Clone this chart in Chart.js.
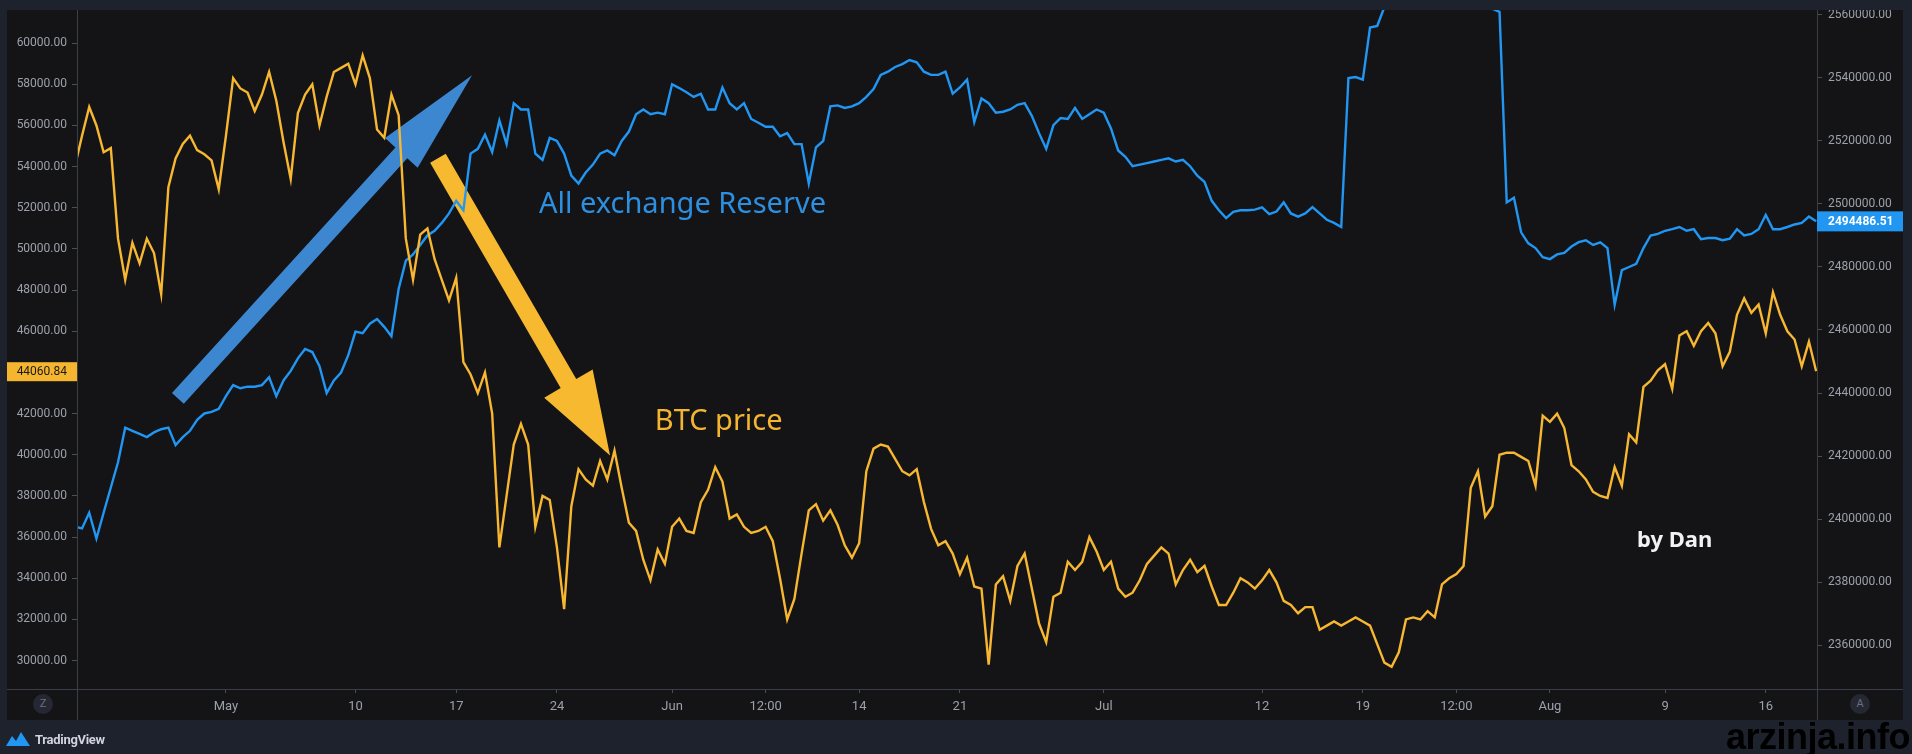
<!DOCTYPE html>
<html lang="en">
<head>
<meta charset="UTF-8" />
<title>BTC price vs All exchange Reserve</title>
<script src="https://cdn.jsdelivr.net/npm/chart.js"></script>
<style>
    html, body {
        margin: 0;
        padding: 0;
        width: 1912px;
        height: 754px;
        overflow: hidden;
        background: #1e222d;
        font-family: Roboto, sans-serif;
    }

    .panel {
        position: absolute;
        left: 7px;
        top: 10px;
        width: 1896px;
        height: 710px;
        background: #141416;
    }

    .panel canvas {
        position: absolute;
        left: 0;
        top: 0;
    }

    .btn {
        position: absolute;
        width: 20px;
        height: 20px;
        border-radius: 50%;
        background: #252833;
        color: #6c707c;
        font-size: 11px;
        line-height: 20px;
        text-align: center;
    }

    .brand {
        position: absolute;
        left: 6px;
        top: 729px;
        height: 20px;
        display: flex;
        align-items: center;
        gap: 5px;
        color: #d1d4dc;
        font: bold 13px Roboto, sans-serif;
        letter-spacing: -0.3px;
    }

    .watermark {
        position: absolute;
        right: 2px;
        top: 716px;
        color: #000;
        font: bold 36px "Liberation Sans Narrow", "Liberation Sans", sans-serif;
        letter-spacing: -0.5px;
    }
</style>
</head>
<body>
<div class="panel">
    <canvas id="chart" width="1896" height="710"></canvas>
    <div class="btn" style="left:26px; top:684px;">Z</div>
    <div class="btn" style="left:1843px; top:684px;">A</div>
</div>
<div class="brand">
    <svg width="24" height="16" viewBox="0 0 24 16">
        <path d="M0 15 L6 5 L10 10 L15 1 L24 15 Z" fill="#2196f3" />
    </svg>
    <span>TradingView</span>
</div>
<div class="watermark">arzinja.info</div>

<script>
    // samples every 12 hours, day 0 = May 1
    const firstDay = -10.5;
    const stepDay = 0.5;

    const btcPrice = [
        54000, 55500, 56900, 56000, 54700, 54900, 50500, 48500, 50300, 49300,
        50500, 49800, 47800, 53000, 54400, 55100, 55500, 54800, 54600, 54300,
        52900, 55500, 58300, 57800, 57600, 56700, 57500, 58600, 57200, 55200,
        53400, 56600, 57500, 58000, 56000, 57400, 58600, 58800, 59000, 58000,
        59400, 58300, 55800, 55400, 57500, 56500, 50500, 48500, 50700, 51000,
        49500, 48500, 47500, 48600, 44500, 43900, 43000, 44000, 42000, 35500,
        38000, 40500, 41500, 40500, 36500, 38000, 37800, 35500, 32500, 37500,
        39300, 38800, 38500, 39700, 38800, 40200, 38400, 36700, 36300, 34900,
        33900, 35400, 34700, 36500, 36900, 36300, 36200, 37700, 38300, 39400,
        38700, 36900, 37100, 36500, 36200, 36300, 36500, 35800, 34000, 32000,
        33000, 35200, 37300, 37600, 36800, 37300, 36600, 35600, 35000, 35700,
        39200, 40300, 40500, 40400, 39800, 39200, 39000, 39300, 37700, 36400,
        35600, 35800, 35200, 34200, 35000, 33600, 33500, 29800, 33700, 34100,
        32900, 34600, 35200, 33500, 31800, 30900, 33100, 33300, 34800, 34400,
        34800, 36000, 35300, 34400, 34800, 33500, 33100, 33300, 33900, 34700,
        35100, 35500, 35200, 33700, 34400, 34900, 34300, 34600, 33600, 32700,
        32700, 33300, 34000, 33800, 33500, 33900, 34400, 33800, 32900, 32700,
        32300, 32600, 32600, 31500, 31700, 31900, 31700, 31900, 32100, 31900,
        31700, 30800, 29900, 29700, 30400, 32000, 32100, 32000, 32400, 32100,
        33700, 34000, 34200, 34600, 38400, 39200, 37000, 37500, 40000, 40100,
        40100, 39900, 39700, 38500, 41900, 41600, 42000, 41300, 39500, 39200,
        38800, 38200, 38000, 37900, 39400, 38500, 41000, 40600, 43300, 43600,
        44100, 44400, 43200, 45800, 46000, 45300, 46000, 46400, 45900, 44300,
        45000, 46800, 47600, 46900, 47300, 45900, 47900, 46800, 46000, 45600,
        44300, 45500, 44060.84
    ];

    const exchangeReserve = [
        2397500, 2397000, 2402000, 2393800, 2402000, 2410000, 2418000, 2429000, 2428000, 2427000,
        2426000, 2427500, 2428500, 2429000, 2423500, 2426000, 2428000, 2431500, 2433500, 2434000,
        2435000, 2439000, 2442500, 2441500, 2442000, 2442000, 2442500, 2445000, 2439000, 2444000,
        2447000, 2451000, 2454000, 2453000, 2448500, 2440000, 2444000, 2446500, 2452000, 2459500,
        2459000, 2462000, 2463500, 2461000, 2458000, 2473000, 2482000, 2484000, 2487000, 2490000,
        2491500, 2494000, 2497000, 2501000, 2498000, 2516000, 2517500, 2522000, 2516500, 2526500,
        2519000, 2532000, 2530000, 2530000, 2516000, 2514000, 2521000, 2520000, 2516000, 2509000,
        2506500, 2510000, 2512500, 2516000, 2517000, 2515500, 2520000, 2523000, 2528500, 2530000,
        2528500, 2529000, 2528500, 2538000, 2536800, 2535500, 2534000, 2535000, 2530000, 2530000,
        2537000, 2532000, 2530000, 2532000, 2527000, 2525800, 2524500, 2524500, 2521500, 2522500,
        2519000, 2519000, 2506500, 2518000, 2520000, 2531000, 2531300, 2530500, 2531000, 2532000,
        2534000, 2536500, 2541000, 2542000, 2543500, 2544400, 2545700, 2545000, 2542000, 2541000,
        2541000, 2542000, 2535000, 2537000, 2539500, 2526000, 2533500, 2532000, 2529000, 2529300,
        2530000, 2531500, 2532000, 2528000, 2522500, 2517500, 2525000, 2527300, 2527000, 2530500,
        2527000, 2528500, 2530000, 2529000, 2524000, 2517000, 2515000, 2512000, 2512500, 2513000,
        2513500, 2514000, 2514500, 2513500, 2514000, 2512000, 2509000, 2507000, 2501000, 2498000,
        2495500, 2497500, 2498000, 2498000, 2498200, 2498900, 2496800, 2497600, 2500500, 2497000,
        2496000, 2497000, 2499000, 2497000, 2495000, 2494000, 2492700, 2540000, 2540300, 2539500,
        2556000, 2556500, 2562500, 2563000, 2564000, 2565000, 2566000, 2567000, 2568000, 2568500,
        2569000, 2569000, 2568500, 2568000, 2567000, 2566000, 2564000, 2562000, 2561000, 2500500,
        2502000, 2491000, 2487500, 2486000, 2483100, 2482500, 2484000, 2484500, 2486500, 2487900,
        2488500, 2487000, 2487800, 2486000, 2468000, 2479000, 2480000, 2481000, 2486000, 2490000,
        2490500, 2491500, 2492000, 2492700, 2491500, 2492000, 2488800, 2489200, 2489200, 2488500,
        2489000, 2492000, 2490000, 2490500, 2492000, 2496500, 2492000, 2492000, 2492700, 2493500,
        2494000, 2496000, 2494486.51
    ];

    const xTickDays = [0, 9, 16, 23, 31, 37.5, 44, 51, 61, 72, 79, 85.5, 92, 100, 107];
    const xTickLabels = ['May', '10', '17', '24', 'Jun', '12:00', '14', '21', 'Jul', '12', '19', '12:00', 'Aug', '9', '16'];

    const btcTicks = [30000, 32000, 34000, 36000, 38000, 40000, 42000, 44000,
        46000, 48000, 50000, 52000, 54000, 56000, 58000, 60000];
    const reserveTicks = [2360000, 2380000, 2400000, 2420000, 2440000, 2460000,
        2480000, 2500000, 2520000, 2540000, 2560000];

    // hand drawn notes, placed in (day, BTC price) units
    const notes = [
        { text: 'All exchange Reserve', day: 21.75, price: 51735, color: '#2d8fe0', font: '29px "Noto Sans"' },
        { text: 'BTC price', day: 29.8, price: 41184, color: '#f5b52e', font: '29px "Noto Sans"' },
        { text: 'by Dan', day: 98.05, price: 35496, color: '#f2f2f2', font: 'bold 22px "Noto Sans"' }
    ];
    const arrows = [
        { from: [-3.34, 42740], to: [17.1, 58444], color: '#3d87d1', shaft: 16, headLen: 105, headWidth: 44 },
        { from: [14.73, 54409], to: [26.69, 39968], color: '#f6b92f', shaft: 18, headLen: 83, headWidth: 56 }
    ];

    const BTC_COLOR = '#f7b731';
    const RESERVE_COLOR = '#2196f3';
    const TICK_COLOR = '#9ca0aa';
    const LINE_COLOR = '#3a3e48';

    const toPoints = arr => arr.map((v, i) => ({ x: firstDay + i * stepDay, y: v }));

    function drawArrow(ctx, x1, y1, x2, y2, a) {
        const len = Math.hypot(x2 - x1, y2 - y1);
        const ux = (x2 - x1) / len, uy = (y2 - y1) / len;
        const nx = -uy, ny = ux;
        const bx = x2 - ux * a.headLen, by = y2 - uy * a.headLen;
        const s = a.shaft / 2, h = a.headWidth / 2;
        ctx.beginPath();
        ctx.moveTo(x1 + nx * s, y1 + ny * s);
        ctx.lineTo(bx + nx * s, by + ny * s);
        ctx.lineTo(bx + nx * h, by + ny * h);
        ctx.lineTo(x2, y2);
        ctx.lineTo(bx - nx * h, by - ny * h);
        ctx.lineTo(bx - nx * s, by - ny * s);
        ctx.lineTo(x1 - nx * s, y1 - ny * s);
        ctx.closePath();
        ctx.fillStyle = a.color;
        ctx.fill();
    }

    const overlay = {
        id: 'overlay',
        beforeDatasetsDraw(chart) {
            const { ctx } = chart;
            const x = chart.scales.x, y = chart.scales.yL;
            ctx.save();
            arrows.forEach(a => {
                drawArrow(ctx,
                    x.getPixelForValue(a.from[0]), y.getPixelForValue(a.from[1]),
                    x.getPixelForValue(a.to[0]), y.getPixelForValue(a.to[1]), a);
            });
            ctx.textAlign = 'left';
            ctx.textBaseline = 'alphabetic';
            notes.forEach(n => {
                ctx.font = n.font;
                ctx.fillStyle = n.color;
                ctx.fillText(n.text, x.getPixelForValue(n.day), y.getPixelForValue(n.price));
            });
            ctx.restore();
        },
        afterDraw(chart) {
            const { ctx, chartArea: area, width, height } = chart;
            ctx.save();
            ctx.strokeStyle = LINE_COLOR;
            ctx.lineWidth = 1;
            ctx.beginPath();
            ctx.moveTo(area.left + 0.5, 0);
            ctx.lineTo(area.left + 0.5, height);
            ctx.moveTo(area.right + 0.5, 0);
            ctx.lineTo(area.right + 0.5, height);
            ctx.moveTo(0, area.bottom + 0.5);
            ctx.lineTo(width, area.bottom + 0.5);
            ctx.stroke();

            // last value labels
            const lastBtc = btcPrice[btcPrice.length - 1];
            const lastRes = exchangeReserve[exchangeReserve.length - 1];
            const yb = chart.scales.yL.getPixelForValue(lastBtc);
            const yr = chart.scales.yR.getPixelForValue(lastRes);
            ctx.fillStyle = '#f5b52e';
            ctx.fillRect(0, yb - 9, area.left, 19);
            ctx.fillStyle = '#1a1a1a';
            ctx.font = '12px Roboto';
            ctx.textAlign = 'right';
            ctx.textBaseline = 'middle';
            ctx.fillText(lastBtc.toFixed(2), area.left - 10, yb + 1);

            ctx.fillStyle = RESERVE_COLOR;
            ctx.fillRect(area.right, yr - 10, width - area.right, 20);
            ctx.fillStyle = '#ffffff';
            ctx.font = 'bold 12px Roboto';
            ctx.textAlign = 'left';
            ctx.fillText(lastRes.toFixed(2), area.right + 11, yr + 1);
            ctx.restore();
        }
    };

    Chart.defaults.font.family = 'Roboto';

    const axisTicks = {
        color: TICK_COLOR,
        font: { size: 12 }
    };

    new Chart(document.getElementById('chart'), {
        type: 'line',
        data: {
            datasets: [
                {
                    label: 'BTC price',
                    data: toPoints(btcPrice),
                    yAxisID: 'yL',
                    borderColor: BTC_COLOR,
                    borderWidth: 2.4,
                    pointRadius: 0,
                    tension: 0
                },
                {
                    label: 'All exchange Reserve',
                    data: toPoints(exchangeReserve),
                    yAxisID: 'yR',
                    borderColor: RESERVE_COLOR,
                    borderWidth: 2.4,
                    pointRadius: 0,
                    tension: 0
                }
            ]
        },
        options: {
            responsive: false,
            animation: false,
            layout: { padding: 0 },
            plugins: {
                legend: { display: false },
                tooltip: { enabled: false }
            },
            scales: {
                x: {
                    type: 'linear',
                    min: -10.35,
                    max: 110.56,
                    afterBuildTicks: s => { s.ticks = xTickDays.map(v => ({ value: v })); },
                    afterFit: s => { s.height = 31; s.paddingLeft = 0; s.paddingRight = 0; },
                    ticks: {
                        ...axisTicks,
                        font: { size: 13 },
                        autoSkip: false,
                        maxRotation: 0,
                        padding: 6,
                        callback: (v, i) => xTickLabels[i]
                    },
                    grid: { drawOnChartArea: false, tickLength: 4, color: '#4a4e59' },
                    border: { display: false }
                },
                yL: {
                    position: 'left',
                    min: 28620,
                    max: 61610,
                    afterBuildTicks: s => { s.ticks = btcTicks.map(v => ({ value: v })); },
                    afterFit: s => { s.width = 70; s.paddingTop = 0; s.paddingBottom = 0; },
                    ticks: {
                        ...axisTicks,
                        padding: 5,
                        callback: v => v.toFixed(2)
                    },
                    grid: { drawOnChartArea: false, tickLength: 5, color: '#4a4e59' },
                    border: { display: false }
                },
                yR: {
                    position: 'right',
                    min: 2346032,
                    max: 2561587,
                    afterBuildTicks: s => { s.ticks = reserveTicks.map(v => ({ value: v })); },
                    afterFit: s => { s.width = 86; s.paddingTop = 0; s.paddingBottom = 0; },
                    ticks: {
                        ...axisTicks,
                        padding: 6,
                        callback: v => v.toFixed(2)
                    },
                    grid: { drawOnChartArea: false, tickLength: 5, color: '#4a4e59' },
                    border: { display: false }
                }
            }
        },
        plugins: [overlay]
    });
</script>
</body>
</html>
